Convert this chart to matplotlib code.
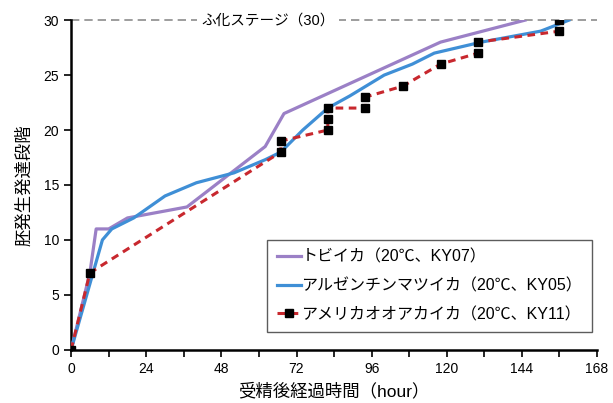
import matplotlib
matplotlib.use("Agg")
import matplotlib.pyplot as plt
from matplotlib.ticker import MultipleLocator

plt.rcParams['font.family'] = ['Liberation Sans', 'Noto Sans CJK JP', 'DejaVu Sans']

# トビイカ
tobi_h = [0, 6, 8, 12, 18, 37, 62, 68, 118, 145]
tobi_s = [0, 7, 11, 11, 12, 13, 18.5, 21.5, 28, 30]
# アルゼンチンマツイカ
arg_h = [0, 10, 13, 20, 30, 40, 52, 62, 67, 74, 82, 89, 100, 109, 116, 131, 150, 159]
arg_s = [0, 10, 11, 12, 14, 15.2, 16.1, 17.3, 18, 20, 22, 23.1, 25, 26, 27, 28, 29, 30]
# アメリカオオアカイカ
ame_h = [0, 6, 67, 67, 82, 82, 82, 94, 94, 106, 118, 130, 130, 156, 156]
ame_s = [0, 7, 18, 19, 20, 21, 22, 22, 23, 24, 26, 27, 28, 29, 30]

hatch_stage = 30

fig = plt.figure(figsize=(6.13, 4.03), dpi=100)
ax = fig.add_axes([0.116, 0.132, 0.858, 0.818])

ax.axhline(hatch_stage, color="#8c8c8c", lw=1.2, ls=(0, (5, 3)), zorder=1, clip_on=False)
ax.text(63, hatch_stage, "ふ化ステージ（30）", ha="center", va="center", fontsize=10.5,
        bbox=dict(fc="white", ec="none", pad=3), zorder=2)

ax.plot(tobi_h, tobi_s, color="#9b80c6", lw=2.3, label="トビイカ（20℃、KY07）", zorder=3)
ax.plot(arg_h, arg_s, color="#3f8fd6", lw=2.3, label="アルゼンチンマツイカ（20℃、KY05）", zorder=4)
ax.plot(ame_h, ame_s, color="#c8282e", lw=2.2, ls=(0, (2.5, 1.8)), marker="s", ms=6,
        mfc="black", mec="black", label="アメリカオオアカイカ（20℃、KY11）", zorder=5)

ax.set_xlim(0, 168)
ax.set_ylim(0, 30)
ax.xaxis.set_major_locator(MultipleLocator(24))
ax.xaxis.set_minor_locator(MultipleLocator(12))
ax.yaxis.set_major_locator(MultipleLocator(5))
for s in ["top", "right"]:
    ax.spines[s].set_visible(False)
for s in ["left", "bottom"]:
    ax.spines[s].set_linewidth(1.8)
ax.tick_params(which="both", direction="out", width=1.2, labelsize=10)
ax.tick_params(which="major", length=5)
ax.tick_params(which="minor", length=5)

ax.set_xlabel("受精後経過時間（hour）", fontsize=12.5, labelpad=5)
ax.set_ylabel("胚発生発達段階", fontsize=12.5, labelpad=8)

leg = ax.legend(loc="lower right", bbox_to_anchor=(0.99, 0.055), borderaxespad=0,
                fontsize=11.5, frameon=True, fancybox=False, edgecolor="#333333",
                handlelength=1.5, handletextpad=0.05, labelspacing=0.85, borderpad=0.6)
leg.get_frame().set_linewidth(1.0)

fig.savefig("out.png", dpi=100, facecolor="white")
